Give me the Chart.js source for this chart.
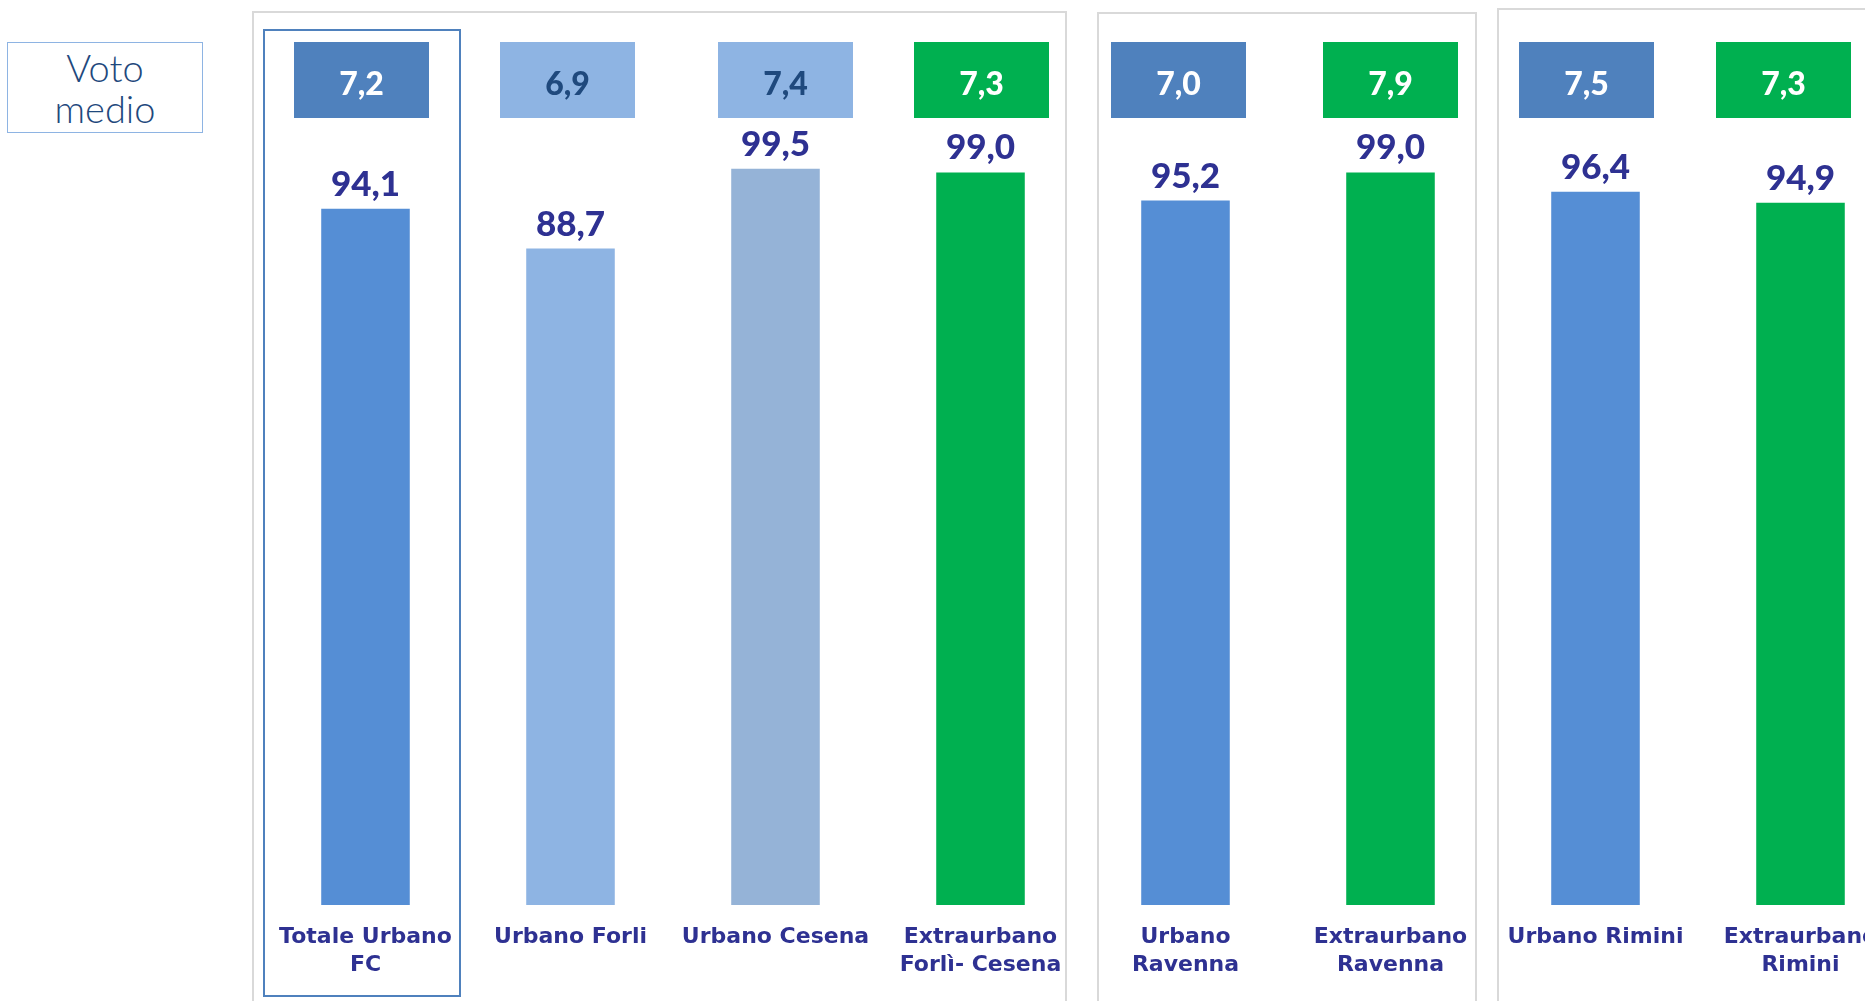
<!DOCTYPE html>
<html lang="it">
<head>
<meta charset="utf-8">
<title>Voto medio</title>
<script src="https://cdn.jsdelivr.net/npm/chart.js@4.4.1/dist/chart.umd.min.js"></script>
<style>
  html, body { margin: 0; padding: 0; background: #fff; overflow: hidden; }
  body { width: 1865px; height: 1001px; position: relative; }
  .panel { position: absolute; border: 2px solid #d9d9d9; box-sizing: border-box; height: 1100px; }
  #voto {
    position: absolute; left: 7px; top: 42px; width: 196px; height: 91px;
    border: 1px solid #8eb4e3; box-sizing: border-box; padding-top: 4px;
    color: #1f497d; font: 300 38px Lato, sans-serif; line-height: 41px; text-align: center;
  }
  #focus { position: absolute; left: 263px; top: 29px; width: 198px; height: 968px; border: 2px solid #4f81bd; box-sizing: border-box; }
  #chart { position: absolute; left: 0; top: 0; }
</style>
</head>
<body>
<div class="panel" style="left:252px; top:11px; width:815px;"></div>
<div class="panel" style="left:1097px; top:12px; width:380px;"></div>
<div class="panel" style="left:1497px; top:8px; width:500px;"></div>
<div id="focus"></div>
<div id="voto">Voto<br>medio</div>
<canvas id="chart" width="1920" height="1001"></canvas>
<script>
// categories, % satisfied and mean score per service
const categories = [
  ['Totale Urbano', 'FC'],
  'Urbano Forli',
  'Urbano Cesena',
  ['Extraurbano', 'Forlì- Cesena'],
  ['Urbano', 'Ravenna'],
  ['Extraurbano', 'Ravenna'],
  'Urbano Rimini',
  ['Extraurbano', 'Rimini']
];
const percent = [94.1, 88.7, 99.5, 99.0, 95.2, 99.0, 96.4, 94.9];
const votoMedio = [7.2, 6.9, 7.4, 7.3, 7.0, 7.9, 7.5, 7.3];

const barColors = ['#558ed5', '#8eb4e3', '#95b3d7', '#00b050', '#558ed5', '#00b050', '#558ed5', '#00b050'];
const boxColors = ['#4f81bd', '#8eb4e3', '#8eb4e3', '#00b050', '#4f81bd', '#00b050', '#4f81bd', '#00b050'];
const boxText = ['#ffffff', '#1f497d', '#1f497d', '#ffffff', '#ffffff', '#ffffff', '#ffffff', '#ffffff'];
const boxShift = [-4, -3, 10, 1, -7, 0, -9, -17];

const navy = '#2e3192';
const fmt = v => v.toFixed(1).replace('.', ',');

// numbers above the bars
const barLabels = {
  id: 'barLabels',
  afterDatasetsDraw(chart) {
    const ctx = chart.ctx;
    const meta = chart.getDatasetMeta(0);
    ctx.save();
    ctx.font = '900 35px Lato, sans-serif';
    ctx.fillStyle = navy;
    ctx.textAlign = 'center';
    ctx.textBaseline = 'alphabetic';
    meta.data.forEach((bar, i) => ctx.fillText(fmt(percent[i]), bar.x, bar.y - 13));
    ctx.restore();
  }
};

// "voto medio" boxes along the top row
const scoreBoxes = {
  id: 'scoreBoxes',
  afterDraw(chart) {
    const ctx = chart.ctx;
    const x = chart.scales.x;
    ctx.save();
    ctx.font = '900 32px Lato, sans-serif';
    ctx.textAlign = 'center';
    ctx.textBaseline = 'alphabetic';
    votoMedio.forEach((v, i) => {
      const cx = x.getPixelForValue(i) + boxShift[i];
      ctx.fillStyle = boxColors[i];
      ctx.fillRect(cx - 67.5, 42, 135, 76);
      ctx.fillStyle = boxText[i];
      ctx.fillText(fmt(v), cx, 95);
    });
    ctx.restore();
  }
};

new Chart(document.getElementById('chart'), {
  type: 'bar',
  data: {
    labels: categories,
    datasets: [{
      data: percent,
      backgroundColor: barColors,
      borderWidth: 0,
      barPercentage: 0.432,
      categoryPercentage: 1
    }]
  },
  options: {
    responsive: false,
    animation: false,
    layout: { padding: { left: 263, right: 17, top: 165, bottom: 0 } },
    plugins: { legend: { display: false }, tooltip: { enabled: false } },
    scales: {
      x: {
        grid: { display: false },
        border: { display: false },
        afterFit(axis) { axis.height = 96; },
        ticks: {
          autoSkip: false,
          maxRotation: 0,
          minRotation: 0,
          padding: 10,
          color: navy,
          font: { family: 'DejaVu Sans', size: 22, weight: 'bold', lineHeight: '28px' }
        }
      },
      y: { display: false, min: 0, max: 100 }
    }
  },
  plugins: [barLabels, scoreBoxes]
});
</script>
</body>
</html>
